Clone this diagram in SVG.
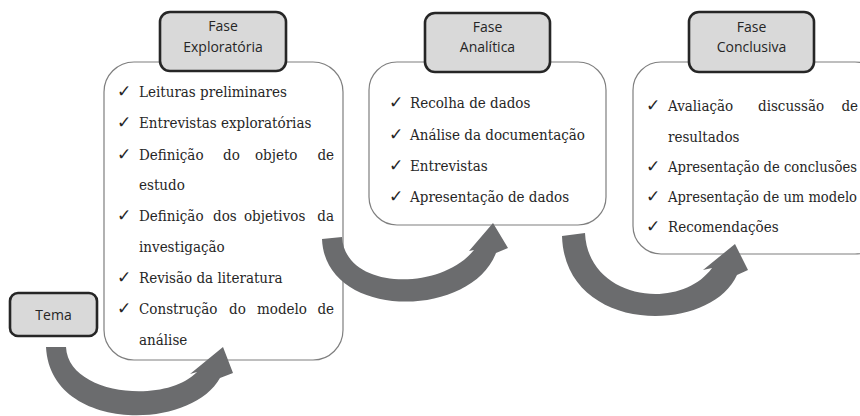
<svg xmlns="http://www.w3.org/2000/svg" width="860" height="416" viewBox="0 0 860 416">
<style>
.box{fill:#ffffff;stroke:#7f7f7f;stroke-width:1.2}
.hdr{fill:#d9d9d9;stroke:#262626;stroke-width:2.6}
.ht{font-family:'Open Sans',sans-serif;font-size:14px;fill:#262626;text-anchor:middle}
.t{font-family:'DejaVu Serif Condensed','DejaVu Serif',serif;font-size:15px;fill:#262626}
.ck{font-family:'DejaVu Sans',sans-serif;font-size:17px;fill:#262626}
.arr{fill:#6b6c6e}
</style>
<rect width="860" height="416" fill="#ffffff"/>

<g id="fase-exploratoria">
<rect class="box" x="104" y="62" width="239" height="298" rx="30"/>
<rect class="hdr" x="160" y="12" width="126" height="59" rx="10"/>
<text class="ht" x="223" y="31">Fase</text>
<text class="ht" x="223" y="52">Exploratória</text>
<text class="ck" x="117" y="97">✓</text>
<text class="ck" x="117" y="128">✓</text>
<text class="ck" x="117" y="160">✓</text>
<text class="ck" x="117" y="221">✓</text>
<text class="ck" x="117" y="283">✓</text>
<text class="ck" x="117" y="314">✓</text>
<text class="t" x="139" y="97">Leituras preliminares</text>
<text class="t" x="139" y="128">Entrevistas exploratórias</text>
<text class="t" x="139" y="160">Definição</text>
<text class="t" x="223" y="160">do</text>
<text class="t" x="255" y="160">objeto</text>
<text class="t" x="334" y="160" text-anchor="end">de</text>
<text class="t" x="139" y="190">estudo</text>
<text class="t" x="139" y="221">Definição</text>
<text class="t" x="213" y="221">dos</text>
<text class="t" x="244" y="221">objetivos</text>
<text class="t" x="334" y="221" text-anchor="end">da</text>
<text class="t" x="139" y="252">investigação</text>
<text class="t" x="139" y="283">Revisão da literatura</text>
<text class="t" x="139" y="314">Construção</text>
<text class="t" x="229" y="314">do</text>
<text class="t" x="257" y="314">modelo</text>
<text class="t" x="334" y="314" text-anchor="end">de</text>
<text class="t" x="139" y="345">análise</text>
</g>

<g id="fase-analitica">
<rect class="box" x="369" y="62" width="237" height="163" rx="28"/>
<rect class="hdr" x="425" y="13" width="125" height="59" rx="10"/>
<text class="ht" x="487.5" y="32">Fase</text>
<text class="ht" x="487.5" y="52">Analítica</text>
<text class="ck" x="389" y="108">✓</text>
<text class="ck" x="389" y="140">✓</text>
<text class="ck" x="389" y="171">✓</text>
<text class="ck" x="389" y="202">✓</text>
<text class="t" x="410" y="108">Recolha de dados</text>
<text class="t" x="410" y="140">Análise da documentação</text>
<text class="t" x="410" y="171">Entrevistas</text>
<text class="t" x="410" y="202">Apresentação de dados</text>
</g>

<g id="fase-conclusiva">
<rect class="box" x="633" y="62" width="250" height="192" rx="28"/>
<rect class="hdr" x="689" y="12" width="125" height="60" rx="10"/>
<text class="ht" x="751.5" y="32">Fase</text>
<text class="ht" x="751.5" y="52">Conclusiva</text>
<text class="ck" x="646" y="111">✓</text>
<text class="ck" x="646" y="172">✓</text>
<text class="ck" x="646" y="202">✓</text>
<text class="ck" x="646" y="232">✓</text>
<text class="t" x="668" y="111">Avaliação</text>
<text class="t" x="758" y="111">discussão</text>
<text class="t" x="858" y="111" text-anchor="end">de</text>
<text class="t" x="668" y="142">resultados</text>
<text class="t" x="668" y="172" textLength="189" lengthAdjust="spacingAndGlyphs">Apresentação de conclusões</text>
<text class="t" x="668" y="202" textLength="189" lengthAdjust="spacingAndGlyphs">Apresentação de um modelo</text>
<text class="t" x="668" y="232">Recomendações</text>
</g>

<g id="tema">
<rect class="hdr" x="10" y="293" width="87" height="43" rx="8"/>
<text class="ht" x="53.5" y="320">Tema</text>
</g>

<g id="connectors">
<path class="arr" d="M46,347 L66,347 C68,395 165,405 197,372 L190,374 L223,347 L233,373 L220,378 C190,432 50,432 46,347 Z"/>
<path class="arr" d="M322,239 L342,237 C345,290 440,292 474,250 L469,251 L493,223 L508,248 L496,253 C470,320 325,320 322,239 Z"/>
<path class="arr" d="M562,236 L585,233 C588,300 680,312 712,268 L703,270 L735,244 L748,270 L737,275 C710,335 565,335 562,236 Z"/>
</g>
</svg>
